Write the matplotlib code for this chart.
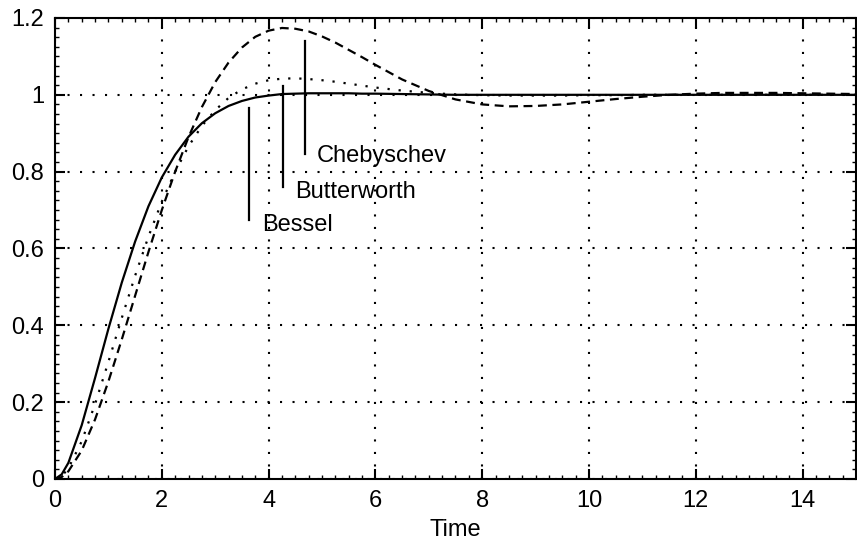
import matplotlib
matplotlib.use('Agg')
import matplotlib.pyplot as plt
from matplotlib.ticker import MultipleLocator, AutoMinorLocator

plt.rcParams['font.family'] = ['Liberation Sans', 'DejaVu Sans']
plt.rcParams['font.size'] = 17

# time samples
t = [0, 0.125, 0.25, 0.5, 0.75, 1.0, 1.25, 1.5, 1.75, 2.0, 2.25, 2.5, 2.75,
     3.0, 3.25, 3.5, 3.75, 4.0, 4.25, 4.5, 4.75, 5.0, 5.25, 5.5, 5.75,
     6.0, 6.5, 7.0, 7.5, 8.0, 8.5, 9.0, 9.5, 10.0, 10.5, 11.0, 11.5,
     12.0, 12.5, 13.0, 13.5, 14.0, 14.5, 15.0]

bessel = [0, 0.012, 0.042, 0.140, 0.263, 0.391, 0.511, 0.618, 0.710, 0.785, 0.844,
          0.891, 0.926, 0.952, 0.971, 0.984, 0.993, 0.998, 1.002, 1.003, 1.004,
          1.004, 1.004, 1.004, 1.003, 1.003, 1.002, 1.001, 1.000, 1.000, 1.000,
          1.000, 1.000, 1.000, 1.000, 1.000, 1.000, 1.000, 1.000, 1.000, 1.000,
          1.000, 1.000, 1.000]

butterworth = [0, 0.007, 0.028, 0.098, 0.195, 0.305, 0.419, 0.529, 0.631, 0.722, 0.800,
               0.866, 0.919, 0.960, 0.992, 1.014, 1.029, 1.038, 1.042, 1.043, 1.041,
               1.038, 1.034, 1.029, 1.024, 1.019, 1.011, 1.005, 1.001, 0.999, 0.998,
               0.998, 0.998, 0.999, 0.999, 1.000, 1.000, 1.000, 1.000, 1.000, 1.000,
               1.000, 1.000, 1.000]

chebyschev = [0, 0.005, 0.020, 0.074, 0.155, 0.254, 0.363, 0.477, 0.591, 0.700, 0.800,
              0.890, 0.968, 1.033, 1.084, 1.123, 1.151, 1.167, 1.174, 1.172, 1.165,
              1.152, 1.136, 1.117, 1.098, 1.078, 1.040, 1.010, 0.988, 0.975, 0.970,
              0.971, 0.975, 0.982, 0.989, 0.995, 1.000, 1.003, 1.005, 1.005, 1.005,
              1.004, 1.003, 1.002]

# annotation markers: x, y bottom, y top, label x, label y
labels = ['Bessel', 'Butterworth', 'Chebyschev']
mark_x = [3.63, 4.27, 4.69]
mark_lo = [0.673, 0.760, 0.846]
mark_hi = [0.965, 1.023, 1.140]
text_x = [3.87, 4.49, 4.90]
text_y = [0.66, 0.748, 0.841]

fig = plt.figure(figsize=(8.57, 5.4), dpi=100)
ax = fig.add_axes([0.0642, 0.113, 0.9346, 0.8537])

ax.plot(t, bessel, color='k', lw=1.6, ls='-')
ax.plot(t, butterworth, color='k', lw=1.6, ls=(0, (1, 4)))
ax.plot(t, chebyschev, color='k', lw=1.6, ls=(0, (4, 2.5)))

for i in range(len(labels)):
    ax.plot([mark_x[i], mark_x[i]], [mark_lo[i], mark_hi[i]], color='k', lw=1.6)
    ax.text(text_x[i], text_y[i], labels[i], ha='left', va='center')

ax.set_xlim(0, 15)
ax.set_ylim(0, 1.2)
ax.xaxis.set_major_locator(MultipleLocator(2))
ax.yaxis.set_major_locator(MultipleLocator(0.2))
ax.xaxis.set_minor_locator(AutoMinorLocator(8))
ax.yaxis.set_minor_locator(AutoMinorLocator(8))
ax.set_yticks([0, 0.2, 0.4, 0.6, 0.8, 1.0, 1.2])
ax.set_yticklabels(['0', '0.2', '0.4', '0.6', '0.8', '1', '1.2'])

ax.grid(True, which='major', color='k', lw=1.5, ls=(0, (1, 5)))
ax.tick_params(which='major', direction='in', length=7, width=1.5,
               top=True, right=True, pad=8)
ax.tick_params(which='minor', direction='in', length=3, width=1,
               top=True, right=True)
for s in ax.spines.values():
    s.set_linewidth(1.5)

ax.set_xlabel('Time', labelpad=5)

fig.savefig('out.png', dpi=100)
